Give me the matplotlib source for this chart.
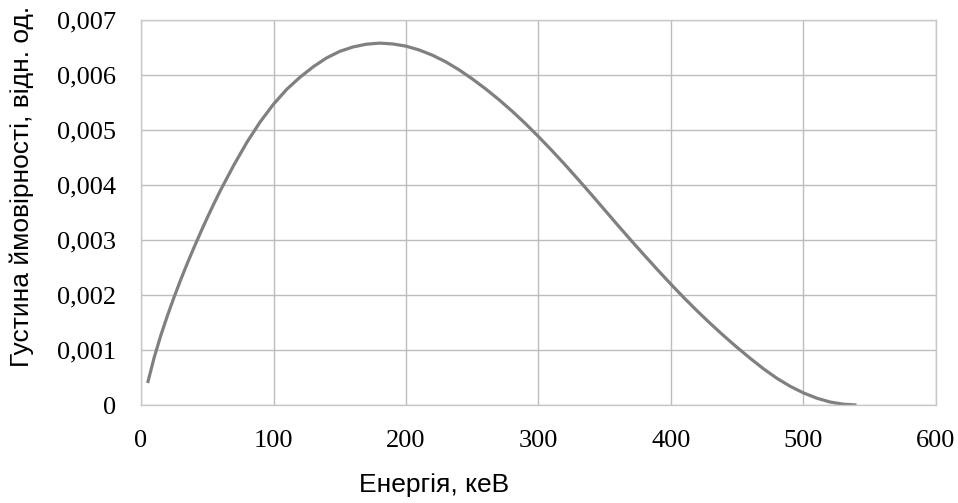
import matplotlib.pyplot as plt
from matplotlib.ticker import FuncFormatter

# енергія, кеВ
energy = [5, 10, 15, 20, 25, 30, 35, 40, 45, 50, 55, 60, 70, 80, 90, 100,
          110, 120, 130, 140, 150, 160, 170, 180, 190, 200, 210, 220, 230,
          240, 250, 260, 270, 280, 290, 300, 310, 320, 330, 340, 350, 360,
          370, 380, 390, 400, 410, 420, 430, 440, 450, 460, 470, 480, 490,
          500, 510, 520, 530, 540]
# густина ймовірності, відн. од. (x 1e-3)
density = [0.40, 0.87, 1.27, 1.63, 1.965, 2.28, 2.58, 2.865, 3.14, 3.405,
           3.66, 3.905, 4.36, 4.78, 5.15, 5.47, 5.74, 5.96, 6.15, 6.31, 6.43,
           6.51, 6.56, 6.58, 6.565, 6.525, 6.455, 6.36, 6.24, 6.095, 5.93,
           5.75, 5.555, 5.345, 5.12, 4.88, 4.63, 4.37, 4.10, 3.825, 3.545,
           3.265, 2.99, 2.72, 2.455, 2.195, 1.945, 1.705, 1.475, 1.255,
           1.045, 0.845, 0.655, 0.485, 0.34, 0.22, 0.125, 0.055, 0.015, 0.0]
density = [d / 1000 for d in density]

x_ticks = [0, 100, 200, 300, 400, 500, 600]
y_ticks = [0, 0.001, 0.002, 0.003, 0.004, 0.005, 0.006, 0.007]

fig = plt.figure(figsize=(9.58, 5.03), dpi=100)
ax = fig.add_axes([0.1472, 0.1948, 0.8298, 0.7654])

ax.plot(energy, density, color='#808080', lw=2.3, solid_capstyle='butt',
        solid_joinstyle='round')

ax.set_xlim(0, 600)
ax.set_ylim(0, 0.007)
ax.set_xticks(x_ticks)
ax.set_yticks(y_ticks)
ax.yaxis.set_major_formatter(FuncFormatter(
    lambda v, p: '0' if v == 0 else f'{v:.3f}'.replace('.', ',')))
ax.grid(True, color='#bdbdbd', lw=1.0)
ax.set_axisbelow(True)
for s in ax.spines.values():
    s.set_color('#c8c8c8')
    s.set_linewidth(1.0)

ax.tick_params(length=0, labelsize=19, pad=18)
for lab in ax.get_xticklabels() + ax.get_yticklabels():
    lab.set_fontfamily('Liberation Serif')

fig.text(434 / 958, 1 - 485 / 503, 'Енергія, кеВ', ha='center', va='center',
         fontsize=19, family='Liberation Sans')
fig.text(22 / 958, 1 - 186 / 503, 'Густина ймовірності, відн. од.',
         ha='center', va='center', rotation=90, fontsize=19,
         family='Liberation Sans')

fig.savefig('out.png', dpi=100)
